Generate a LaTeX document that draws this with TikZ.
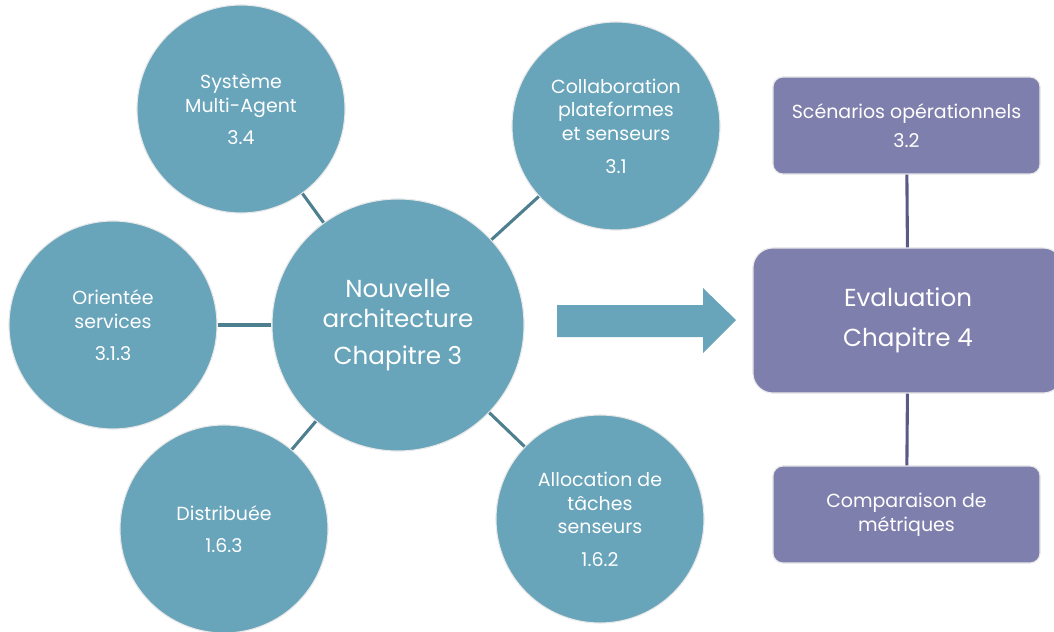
\documentclass[tikz,border=0pt]{standalone}
\usepackage{fontspec}
\setmainfont{Poppins}
\usepackage{xcolor}
\usetikzlibrary{positioning,calc,shapes.geometric}
\definecolor{circblue}{RGB}{104,164,186}
\definecolor{linkblue}{RGB}{78,127,143}
\definecolor{boxpurple}{RGB}{127,127,173}
\definecolor{linkpurple}{RGB}{90,90,135}
\definecolor{rimgray}{RGB}{232,232,232}

\begin{document}
\begin{tikzpicture}[x=0.025cm, y=-0.025cm,
		topic/.style={circle, fill=circblue, draw=rimgray, line width=0.8pt, minimum size=5.2cm, inner sep=0pt, align=center, text=white, font=\fontsize{13.5}{17}\selectfont},
		core/.style={topic, minimum size=6.3cm, font=\fontsize{17.5}{21.5}\selectfont},
		evalbox/.style={rectangle, rounded corners=0.25cm, fill=boxpurple, draw=rimgray, line width=0.8pt, minimum width=6.675cm, minimum height=2.425cm, align=center, text=white, font=\fontsize{13.5}{17}\selectfont},
		mainbox/.style={evalbox, rounded corners=0.5cm, minimum width=7.75cm, minimum height=3.625cm, font=\fontsize{17.5}{21}\selectfont},
		circlink/.style={linkblue, line width=2.2pt},
		boxlink/.style={linkpurple, line width=2.2pt}]
				\useasboundingbox (0,0) rectangle (1054,632);
				% central topic and its branches
				\node[core] (arch) at (398,325) {Nouvelle\\architecture\\[5pt]Chapitre 3};
				\node[topic] (sma) at (241,109) {Système\\Multi-Agent\\[6pt]3.4};
				\node[topic] (collab) at (616,126) {Collaboration\\plateformes\\et senseurs\\[6pt]3.1};
				\node[topic] (soa) at (113,325) {Orientée\\services\\[6pt]3.1.3};
				\node[topic] (distrib) at (224,529) {Distribuée\\[6pt]1.6.3};
				\node[topic] (alloc) at (600,519) {Allocation de\\tâches\\senseurs\\[6pt]1.6.2};
				\foreach \t in {sma,collab,soa,distrib,alloc}
					\draw[circlink] (arch) -- (\t);
				% big arrow
				\fill[circblue] (557,305) -- (703,305) -- (703,288) -- (736,320) -- (703,353) -- (703,337) -- (557,337) -- cycle;
				% evaluation column
				\node[mainbox] (eval) at (908,320.5) {Evaluation\\[7pt]Chapitre 4};
				\node[evalbox] (scen) at (906.5,125.5) {Scénarios opérationnels\\[4pt]3.2};
				\node[evalbox] (metr) at (906.5,514.5) {Comparaison de\\métriques};
				\draw[boxlink] (scen) -- (eval);
				\draw[boxlink] (eval) -- (metr);
			\end{tikzpicture}
\end{document}
